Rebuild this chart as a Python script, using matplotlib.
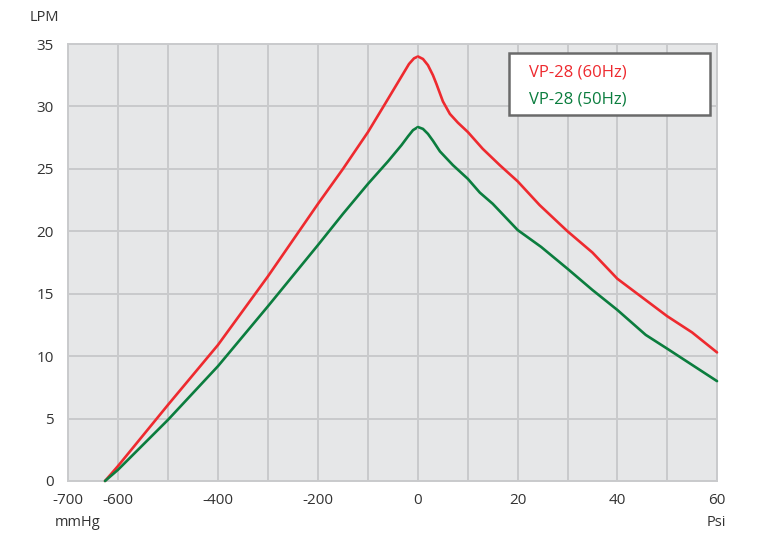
import matplotlib
matplotlib.use("Agg")
import matplotlib.pyplot as plt
from matplotlib.patches import Rectangle

# ---- data ----
vac_mmhg = [-626, -600, -500, -400, -300, -200, -150, -100, -69, -45, -30, -18, -8, 0]
vac_60hz = [0.0, 1.2, 6.1, 10.9, 16.4, 22.2, 25.0, 27.95, 30.0, 31.6, 32.6, 33.4, 33.85, 34.0]
vac_mmhg_50 = [-626, -600, -500, -400, -300, -200, -150, -100, -60, -33, -20, -10, 0]
vac_50hz = [0.0, 0.9, 4.9, 9.2, 14.0, 18.9, 21.4, 23.8, 25.6, 26.9, 27.6, 28.1, 28.35]

prs_psi = [0, 1, 2, 3, 3.7, 5, 6.4, 8, 10, 13, 16.4, 20, 24.4, 30, 35, 40, 45, 50, 55, 60]
prs_60hz = [34.0, 33.8, 33.3, 32.5, 31.8, 30.4, 29.4, 28.7, 27.95, 26.6, 25.3, 24.0, 22.1, 20.0, 18.3, 16.2, 14.7, 13.2, 11.9, 10.3]
prs_psi_50 = [0, 1, 2, 3, 4.4, 7, 10, 12.4, 15, 20, 24.7, 30, 35, 40, 45.7, 50, 55, 60]
prs_50hz = [28.35, 28.2, 27.8, 27.25, 26.4, 25.3, 24.2, 23.1, 22.2, 20.1, 18.75, 17.0, 15.3, 13.7, 11.7, 10.6, 9.3, 8.0]

series_labels = ["VP-28 (60Hz)", "VP-28 (50Hz)"]
y_ticks = [0, 5, 10, 15, 20, 25, 30, 35]
left_ticks = [-700, -600, -500, -400, -300, -200, -100, 0]
left_labels = ["-700", "-600", "", "-400", "", "-200", "", "0"]
right_ticks = [0, 10, 20, 30, 40, 50, 60]
right_labels = ["", "", "20", "", "40", "", "60"]

RED = "#ee2a2f"
GREEN = "#0b7d3e"
BG = "#e6e7e8"
GRID = "#c9cacc"
TXT = "#333333"

plt.rcParams['font.family'] = ['Open Sans', 'DejaVu Sans']

W, H = 761, 535
fig = plt.figure(figsize=(W / 100, H / 100), dpi=100)

x0, xmid, x1 = 68, 418, 717
ytop, ybot = 44, 481
axL = fig.add_axes([x0 / W, (H - ybot) / H, (xmid - x0) / W, (ybot - ytop) / H])
axR = fig.add_axes([xmid / W, (H - ybot) / H, (x1 - xmid) / W, (ybot - ytop) / H])

for ax in (axL, axR):
    ax.set_facecolor(BG)
    ax.set_ylim(0, 35)
    ax.set_yticks(y_ticks)
    ax.grid(True, color=GRID, linewidth=1.4)
    ax.set_axisbelow(True)
    for s in ax.spines.values():
        s.set_color(GRID)
        s.set_linewidth(1.4)
    ax.tick_params(length=0, labelsize=11, colors=TXT)

axL.set_xlim(-700, 0)
axL.set_xticks(left_ticks)
axL.set_xticklabels(left_labels)
axL.spines['right'].set_visible(False)
axL.tick_params(axis='x', pad=9)
axL.tick_params(axis='y', pad=10)

axR.set_xlim(0, 60)
axR.set_xticks(right_ticks)
axR.set_xticklabels(right_labels)
axR.set_yticklabels([])
axR.tick_params(axis='x', pad=9)

lw = 1.9
axL.plot(vac_mmhg, vac_60hz, color=RED, lw=lw, zorder=4, clip_on=False, solid_capstyle='round', solid_joinstyle='round')
axL.plot(vac_mmhg_50, vac_50hz, color=GREEN, lw=lw, zorder=4, clip_on=False, solid_capstyle='round', solid_joinstyle='round')
axR.plot(prs_psi, prs_60hz, color=RED, lw=lw, zorder=4, clip_on=False, solid_capstyle='round', solid_joinstyle='round')
axR.plot(prs_psi_50, prs_50hz, color=GREEN, lw=lw, zorder=4, clip_on=False, solid_capstyle='round', solid_joinstyle='round')

# unit labels
fig.text(44.5 / W, 1 - 17.5 / H, "LPM", ha='center', va='center', fontsize=10.5, color=TXT)
fig.text(77.5 / W, 1 - 523 / H, "mmHg", ha='center', va='center', fontsize=10.5, color=TXT)
fig.text(716 / W, 1 - 523 / H, "Psi", ha='center', va='center', fontsize=10.5, color=TXT)

# legend box
bx0, by0, bx1, by1 = 509, 53, 710, 115
fig.patches.append(Rectangle((bx0 / W, 1 - by1 / H), (bx1 - bx0) / W, (by1 - by0) / H,
                             transform=fig.transFigure, facecolor='white',
                             edgecolor='#6a6a6a', linewidth=1.8, zorder=10))
fig.text(529 / W, 1 - 72 / H, series_labels[0], ha='left', va='center', fontsize=12, color=RED, zorder=11)
fig.text(529 / W, 1 - 99 / H, series_labels[1], ha='left', va='center', fontsize=12, color=GREEN, zorder=11)

fig.savefig("out.png", dpi=100)
